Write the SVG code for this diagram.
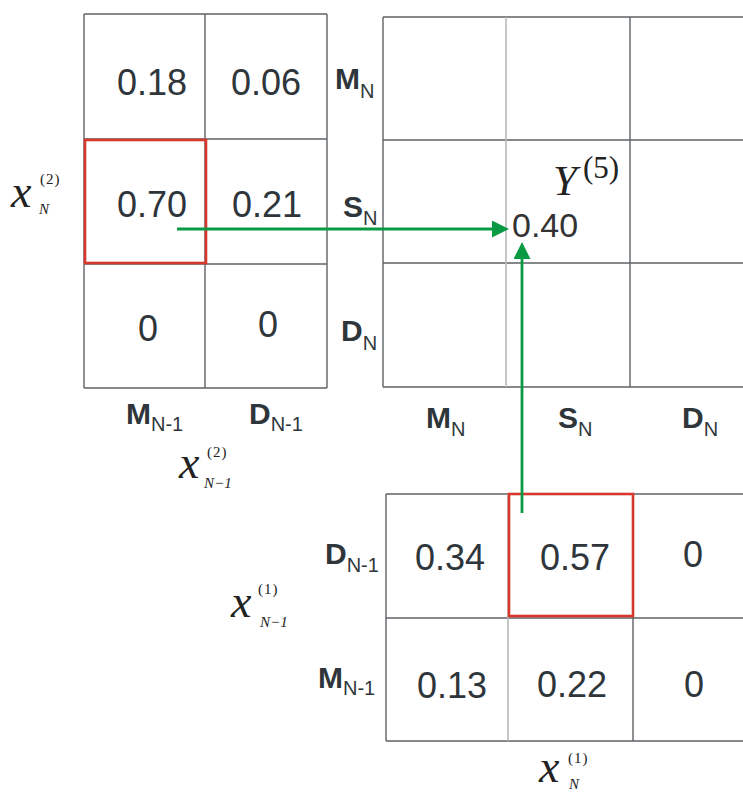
<svg xmlns="http://www.w3.org/2000/svg" width="743" height="793" viewBox="0 0 743 793">
<style>
.grid{stroke:#5f6366;stroke-width:1.4;fill:none}
.lgrid{stroke:#b8babb;stroke-width:1.6;fill:none}
.red{stroke:#d8382c;stroke-width:2.6;fill:none}
.num{font-family:"Liberation Sans",Arial,sans-serif;font-size:36px;fill:#2f363b;text-anchor:middle}
.lab{font-family:"Liberation Sans",Arial,sans-serif;font-size:30px;font-weight:bold;fill:#2f363b}
.sub{font-size:20px;font-weight:normal}
.mx{font-family:"Liberation Serif","Times New Roman",serif;font-style:italic;font-size:46px;fill:#222}
.ms{font-family:"Liberation Serif","Times New Roman",serif;font-size:15px;font-style:normal;fill:#222;letter-spacing:1px}
.mi{font-family:"Liberation Serif","Times New Roman",serif;font-size:15px;font-style:italic;fill:#222}
.arr{stroke:#0a9a44;stroke-width:2.8;fill:none}
</style>
<defs>
<marker id="ah" markerUnits="userSpaceOnUse" markerWidth="17" markerHeight="17" refX="8" refY="8.5" orient="auto">
<path d="M0,0 L17,8.5 L0,17 z" fill="#0a9a44"/>
</marker>
</defs>
<rect width="743" height="793" fill="#fff"/>

<g id="matrix-x2">
<path class="grid" d="M84,14 H327 M84,139 H327 M84,264 H327 M84,388 H327 M84,14 V388 M205,14 V388 M327,14 V388"/>
<rect class="red" x="85" y="140" width="121" height="123"/>
<text class="num" x="152" y="95">0.18</text>
<text class="num" x="266" y="95">0.06</text>
<text class="num" x="152" y="217">0.70</text>
<text class="num" x="267" y="217">0.21</text>
<text class="num" x="148" y="341">0</text>
<text class="num" x="268" y="337">0</text>
</g>

<g id="labels-x2">
<text class="lab" x="335" y="89">M<tspan class="sub" dy="9">N</tspan></text>
<text class="lab" x="343" y="217">S<tspan class="sub" dy="8">N</tspan></text>
<text class="lab" x="341" y="341">D<tspan class="sub" dy="9">N</tspan></text>
<text class="lab" x="126" y="424">M<tspan class="sub" dy="7">N-1</tspan></text>
<text class="lab" x="249" y="424">D<tspan class="sub" dy="7">N-1</tspan></text>
<text class="mx" x="11" y="207">x</text>
<text class="ms" x="40" y="184">(2)</text>
<text class="mi" x="39" y="214">N</text>
<text class="mx" x="179" y="478">x</text>
<text class="ms" x="207" y="457">(2)</text>
<text class="mi" x="204" y="488">N−1</text>
</g>

<g id="matrix-y">
<path class="grid" d="M383,17 H743 M383,140 H743 M383,263 H743 M383,387 H743 M383,17 V387 M630,17 V387"/>
<path class="lgrid" d="M506,17 V387"/>
<text class="mx" style="font-size:43px" x="553" y="195">Y</text>
<text x="583" y="178" style="font-family:'Liberation Serif','Times New Roman',serif;font-size:31px;fill:#222">(5)</text>
<text x="512" y="237" style="font-family:'Liberation Sans',Arial,sans-serif;font-size:34px;fill:#333">0.40</text>
</g>

<g id="labels-y">
<text class="lab" x="426" y="428">M<tspan class="sub" dy="8">N</tspan></text>
<text class="lab" x="558" y="428">S<tspan class="sub" dy="8">N</tspan></text>
<text class="lab" x="682" y="428">D<tspan class="sub" dy="8">N</tspan></text>
</g>

<g id="matrix-x1">
<path class="grid" d="M386,494 H743 M386,618 H743 M386,741 H743 M386,494 V741 M633,494 V741"/>
<path class="lgrid" d="M508,494 V741"/>
<rect class="red" x="509" y="494" width="124" height="122"/>
<text class="num" x="450" y="570">0.34</text>
<text class="num" x="575" y="570">0.57</text>
<text class="num" x="693" y="567">0</text>
<text class="num" x="452" y="698">0.13</text>
<text class="num" x="572" y="697">0.22</text>
<text class="num" x="694" y="697">0</text>
</g>

<g id="labels-x1">
<text class="lab" x="325" y="564">D<tspan class="sub" dy="8">N-1</tspan></text>
<text class="lab" x="318" y="688">M<tspan class="sub" dy="7">N-1</tspan></text>
<text class="mx" x="231" y="617">x</text>
<text class="ms" x="258" y="594">(1)</text>
<text class="mi" x="260" y="627">N−1</text>
<text class="mx" x="539" y="782">x</text>
<text class="ms" x="568" y="763">(1)</text>
<text class="mi" x="569" y="789">N</text>
</g>

<g id="connectors">
<path class="arr" d="M177,229 H500" marker-end="url(#ah)"/>
<path class="arr" d="M522,513 V251" marker-end="url(#ah)"/>
</g>
</svg>
